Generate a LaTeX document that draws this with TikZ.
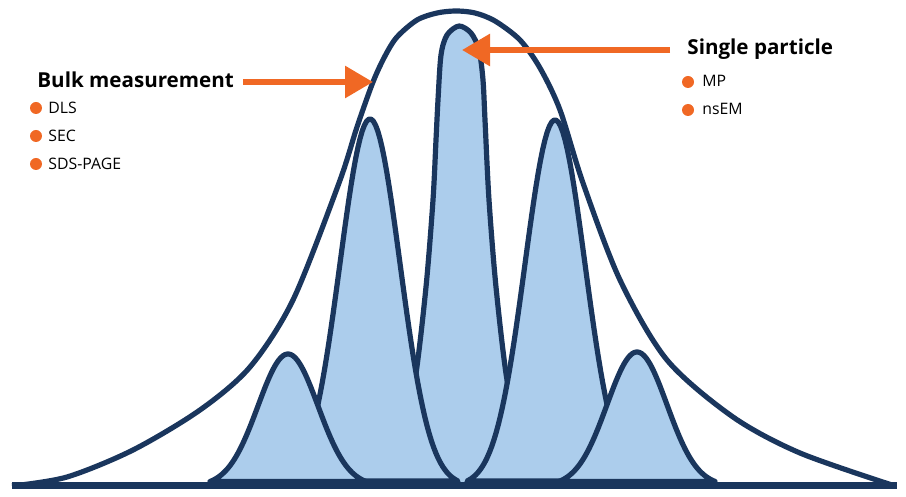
\documentclass[tikz,border=0pt]{standalone}
\usepackage{fontspec}
\setmainfont{Open Sans}
\usetikzlibrary{arrows.meta}
\definecolor{navy}{RGB}{26,54,93}
\definecolor{peakblue}{RGB}{172,205,236}
\definecolor{accent}{RGB}{240,104,36}
\tikzset{peak/.style={draw=navy,fill=peakblue,line width=2.6pt,line join=round},hull/.style={draw=navy,line width=2.6pt},arr/.style={-{Triangle[length=14pt,width=15.5pt]},draw=accent,line width=3pt},head/.style={font=\fontsize{10.3}{12}\selectfont\bfseries,anchor=base west,inner sep=0pt},item/.style={font=\fontsize{7.9}{9}\selectfont,anchor=base west,inner sep=0pt},dot/.style={circle,fill=accent,inner sep=0pt,minimum size=6pt}}

\begin{document}
\begin{tikzpicture}[x=0.5pt,y=-0.5pt]
\useasboundingbox(0,0)rectangle(906,497);
% centre peak first, the side peaks hide its foot
\draw[peak]plot[smooth]coordinates{(373,486)(401,440)(415,380)(426,287)(433,200)(436,140)(438,100)(441,55)(447,35)(459,26)(471,33)(479,50)(483,80)(485,120)(489,200)(496,287)(507,380)(521,440)(549,486)}--cycle;
\foreach\c/\h/\w in{370/367/88,555/366/88,288/132/78,637/134/78}\draw[peak]plot[domain=-\w:\w,samples=80]({\c+\x},{486-\h*exp(-\x*\x/1800)})--cycle;
% bulk envelope
\draw[hull]plot[smooth]coordinates{(12,486)(67,477)(133,450)(200,410)(250,367)(293,300)(339,183)(357,127)(373,82)(385,56)(397,37)(417,20)(437,13)(456,11)(475,13)(495,21)(520,40)(540,68)(560,110)(583,183)(620,280)(667,360)(733,417)(800,453)(895,486)};
\draw[navy,line width=3.5pt](12,486)--(897,486);
\node[head](bulk)at(37,88){Bulk measurement};
\node[head](single)at(687,55){Single particle};
\coordinate(bulkfrom)at(243,82);\coordinate(bulkto)at(373,82);
\coordinate(singlefrom)at(670,50);\coordinate(singleto)at(462,50);
\foreach\a/\b in{bulkfrom/bulkto,singlefrom/singleto}\draw[arr](\a)--(\b);
\foreach\n/\t/\y in{dls/DLS/114,sec/SEC/142,sds/SDS-PAGE/170}{\node[dot](\n dot)at(36,{\y-6}){};\node[item](\n)at(48,\y){\t};}
\foreach\n/\t/\y in{mp/MP/87,nsem/nsEM/115}{\node[dot](\n dot)at(688,{\y-5}){};\node[item](\n)at(702,\y){\t};}
\end{tikzpicture}
\end{document}
